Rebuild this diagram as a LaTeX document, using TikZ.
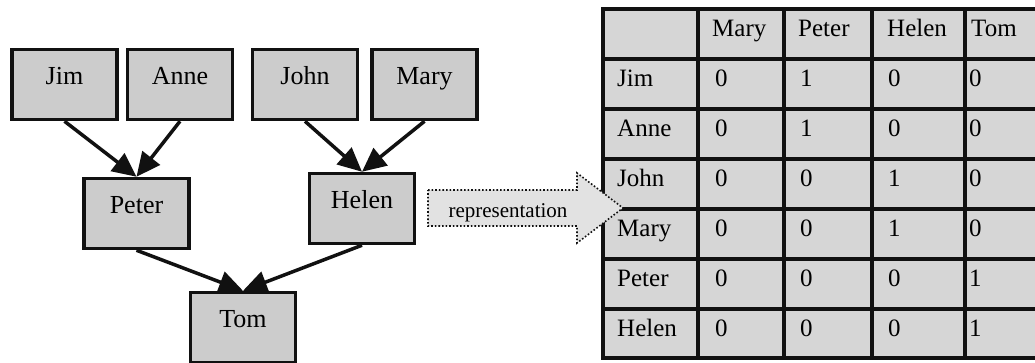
\documentclass[tikz,border=0pt]{standalone}
\usepackage{fontspec}
\setmainfont{Liberation Serif}
\usetikzlibrary{arrows.meta}
\definecolor{boxgray}{HTML}{CCCCCC}
\definecolor{tabgray}{HTML}{D6D6D6}
\definecolor{arrgray}{HTML}{E2E2E2}
\definecolor{ink}{HTML}{111111}
\tikzset{
  person/.style={draw=ink, fill=boxgray, line width=3.5pt, minimum width=105pt,
    minimum height=70pt, inner sep=0pt, text height=9pt, text depth=9pt,
    font=\fontsize{26}{28}\selectfont},
  link/.style={draw=ink, line width=3.5pt, -{Triangle[length=24pt,width=22pt]}},
  cell/.style={anchor=base west, inner sep=0pt, font=\fontsize{25}{27}\selectfont},
  tabline/.style={draw=ink, line width=3.5pt},
  reprarrow/.style={draw=ink, dotted, line width=1.6pt, fill=arrgray},
  reprlabel/.style={anchor=base, inner sep=0pt, font=\fontsize{21}{23}\selectfont},
}
\begin{document}
\begin{tikzpicture}[x=1pt, y=-1pt]
\useasboundingbox (0,0) rectangle (1035,362);
\clip (0,0) rectangle (1035,362);

% tree
\node[person] (jim)   at (64.5,84.5)  {Jim};
\node[person] (anne)  at (180,84.5)   {Anne};
\node[person] (john)  at (305,84.5)   {John};
\node[person] (mary)  at (424.5,84.5) {Mary};
\node[person] (peter) at (136.5,213.5) {Peter};
\node[person] (helen) at (362,208.5)  {Helen};
\node[person] (tom)   at (243,327.5)  {Tom};

\draw[link] (jim.south)   -- (peter.north);
\draw[link] (anne.south)  -- (peter.north);
\draw[link] (john.south)  -- (helen.north);
\draw[link] (mary.south)  -- (helen.north);
\draw[link] (peter.south) -- (tom.north);
\draw[link] (helen.south) -- (tom.north);

% table
\fill[tabgray] (603,9) rectangle (1045,358);
\foreach \y in {9,59,109,159,209,259,309,358}
  \draw[tabline] (601.25,\y) -- (1045,\y);
\foreach \x in {603,698,784,872,965}
  \draw[tabline] (\x,9) -- (\x,358);

\foreach \t [count=\c] in {Mary,Peter,Helen,Tom}{
  \pgfmathsetmacro{\xx}{{712,798,887,971}[\c-1]}
  \node[cell] (h-\c) at (\xx,36) {\t};
}
\foreach \name/\a/\b/\cc/\d [count=\r] in {Jim/0/1/0/0, Anne/0/1/0/0, John/0/0/1/0,
    Mary/0/0/1/0, Peter/0/0/0/1, Helen/0/0/0/1}{
  \pgfmathsetmacro{\yy}{36+50*\r}
  \node[cell] (r-\r) at (617,\yy) {\name};
  \node[cell] (c-\r-1) at (715,\yy) {\a};
  \node[cell] (c-\r-2) at (800,\yy) {\b};
  \node[cell] (c-\r-3) at (888,\yy) {\cc};
  \node[cell] (c-\r-4) at (969,\yy) {\d};
}

% representation arrow
\draw[reprarrow] (428,190) -- (577,190) -- (577,173) -- (623,208)
  -- (577,243) -- (577,226) -- (428,226) -- cycle;
\node[reprlabel] (repr) at (508,217) {representation};
\end{tikzpicture}
\end{document}
